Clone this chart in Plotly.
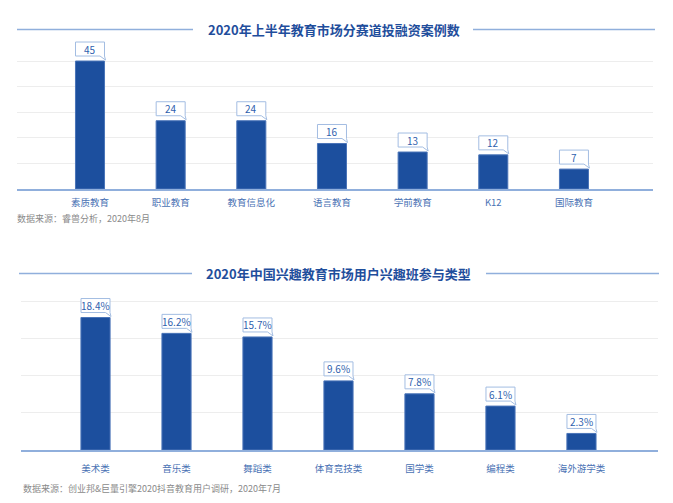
import plotly.graph_objects as go

# ---------------- data ----------------
top_categories = ["素质教育", "职业教育", "教育信息化", "语言教育", "学前教育", "K12", "国际教育"]
top_values = [45, 24, 24, 16, 13, 12, 7]
top_labels = ["45", "24", "24", "16", "13", "12", "7"]
top_grid = [9, 18, 27, 36, 45]

bottom_categories = ["美术类", "音乐类", "舞蹈类", "体育竞技类", "国学类", "编程类", "海外游学类"]
bottom_values = [18.4, 16.2, 15.7, 9.6, 7.8, 6.1, 2.3]
bottom_labels = ["18.4%", "16.2%", "15.7%", "9.6%", "7.8%", "6.1%", "2.3%"]
bottom_grid = [5.15, 10.3, 15.45, 20.6]

top_title = "2020年上半年教育市场分赛道投融资案例数"
bottom_title = "2020年中国兴趣教育市场用户兴趣班参与类型"
top_source = "数据来源：睿兽分析，2020年8月"
bottom_source = "数据来源：创业邦&巨量引擎2020抖音教育用户调研，2020年7月"

# ---------------- style ----------------
W, H = 673, 503
FONT = "Noto Sans CJK SC"
BAR = "#1c4f9e"
BAR_EDGE = "#4a74b8"
TITLE_C = "#1f4e9c"
TICK_C = "#4a72b4"
LABEL_C = "#2f5fae"
BOX_EDGE = "#a3bde2"
RULE_C = "#90afdc"
SRC_C = "#8a8a8a"


def px_x(p):
    return p / W


def px_y(p):
    return 1 - p / H


fig = go.Figure()

fig.add_trace(go.Bar(x=top_categories, y=top_values, xaxis="x", yaxis="y",
                     width=0.36, marker=dict(color=BAR, line=dict(color=BAR_EDGE, width=1)),
                     hoverinfo="x+y", showlegend=False))
fig.add_trace(go.Bar(x=bottom_categories, y=bottom_values, xaxis="x2", yaxis="y2",
                     width=0.36, marker=dict(color=BAR, line=dict(color=BAR_EDGE, width=1)),
                     hoverinfo="x+y", showlegend=False))

# chart geometry (pixels): baseline position and px per unit
top_base, top_scale, top_max = 189, 2.844, 58
bot_base, bot_scale, bot_max = 450, 7.2, 22.5

shapes = []
annotations = []


def callouts(cats, vals, labels, xref, yref):
    for c, v, t in zip(cats, vals, labels):
        shapes.append(dict(
            type="path", xref=xref, yref=yref, xsizemode="pixel", ysizemode="pixel",
            xanchor=c, yanchor=v,
            path="M -14.5,5 L 10,5 L 15.5,1 L 14.5,5 L 14.5,19 L -14.5,19 Z",
            fillcolor="white", line=dict(color=BOX_EDGE, width=1), layer="above"))
        annotations.append(dict(
            x=c, y=v, xref=xref, yref=yref, text=t, showarrow=False, yshift=12,
            font=dict(family=FONT, size=10, color=LABEL_C)))


callouts(top_categories, top_values, top_labels, "x", "y")
callouts(bottom_categories, bottom_values, bottom_labels, "x2", "y2")

# title rules
for (x0, x1, y) in [(17, 193, 29.5), (473, 655, 29.5), (19, 192, 273.5), (486, 659, 273.5)]:
    shapes.append(dict(type="line", xref="paper", yref="paper",
                       x0=px_x(x0), x1=px_x(x1), y0=px_y(y), y1=px_y(y),
                       line=dict(color=RULE_C, width=1.5)))

annotations += [
    dict(x=px_x(334), y=px_y(29.5), xref="paper", yref="paper", text=top_title, showarrow=False,
         xanchor="center", yanchor="middle",
         font=dict(family=FONT, size=13, color=TITLE_C, weight=700)),
    dict(x=px_x(338), y=px_y(273.5), xref="paper", yref="paper", text=bottom_title, showarrow=False,
         xanchor="center", yanchor="middle",
         font=dict(family=FONT, size=13, color=TITLE_C, weight=700)),
    dict(x=px_x(15), y=px_y(218), xref="paper", yref="paper", text=top_source, showarrow=False,
         xanchor="left", yanchor="middle", font=dict(family=FONT, size=9, color=SRC_C)),
    dict(x=px_x(21), y=px_y(488), xref="paper", yref="paper", text=bottom_source, showarrow=False,
         xanchor="left", yanchor="middle", font=dict(family=FONT, size=9, color=SRC_C)),
]

axis_common = dict(type="category", showgrid=False, zeroline=False, showline=True,
                   linecolor=RULE_C, linewidth=2, ticks="",
                   tickfont=dict(family=FONT, size=9.5, color=TICK_C), fixedrange=True)

fig.update_layout(
    width=W, height=H, margin=dict(l=0, r=0, t=0, b=0),
    paper_bgcolor="white", plot_bgcolor="rgba(0,0,0,0)",
    font=dict(family=FONT),
    showlegend=False,
    xaxis=dict(axis_common, domain=[px_x(17), px_x(653)], range=[-0.905, 6.98], anchor="y",
               ticklabelstandoff=4),
    yaxis=dict(domain=[px_y(top_base), px_y(top_base - top_max * top_scale)], range=[0, top_max],
               anchor="x", tickvals=top_grid, showticklabels=False, showgrid=True,
               gridcolor="#ededed", gridwidth=1, zeroline=False, showline=False, fixedrange=True),
    xaxis2=dict(axis_common, domain=[px_x(21), px_x(658)], range=[-0.92, 6.945], anchor="y2",
                ticklabelstandoff=9),
    yaxis2=dict(domain=[px_y(bot_base), px_y(bot_base - bot_max * bot_scale)], range=[0, bot_max],
                anchor="x2", tickvals=bottom_grid, showticklabels=False, showgrid=True,
                gridcolor="#ededed", gridwidth=1, zeroline=False, showline=False, fixedrange=True),
    shapes=shapes,
    annotations=annotations,
)

fig.write_html("out.html", config={"displayModeBar": False},
               post_script="document.body.style.margin='0';document.body.style.overflow='hidden';")
